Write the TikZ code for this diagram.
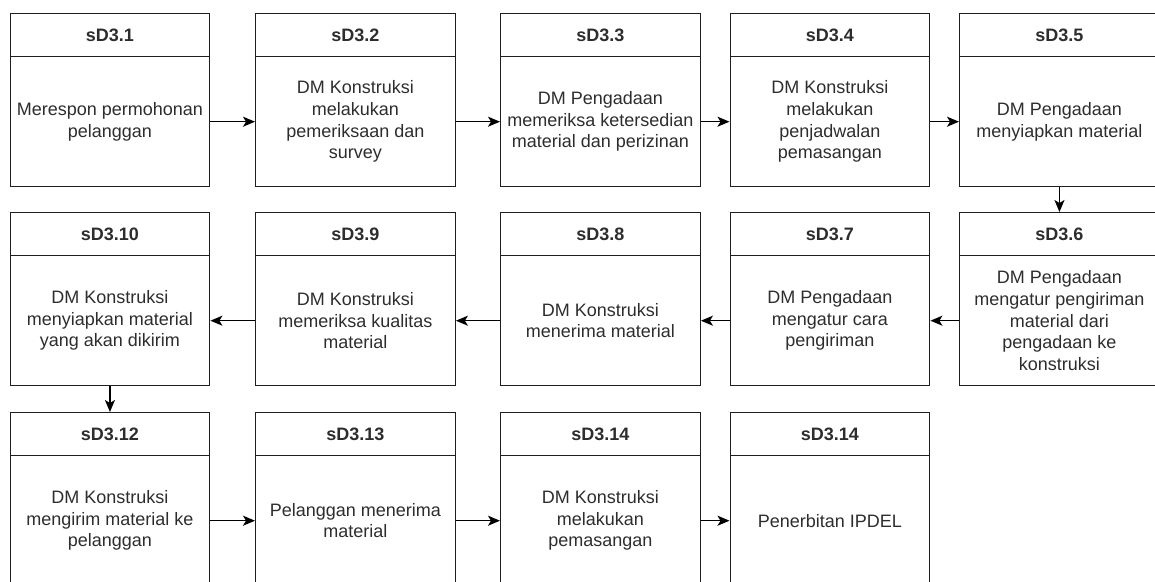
\documentclass[tikz,border=0pt]{standalone}
\usepackage{fontspec}
\setmainfont{Liberation Sans}
\usetikzlibrary{arrows.meta}
\definecolor{ln}{RGB}{30,30,30}
\definecolor{tx}{RGB}{45,45,45}
\tikzset{
  hdr/.style={draw=ln, line width=1.4pt, minimum width=199.5pt, minimum height=43pt, anchor=north west, inner sep=0pt,
    font=\fontsize{18}{21.6}\selectfont\bfseries, text=tx},
  bdy/.style={draw=ln, line width=1.4pt, minimum width=199.5pt, minimum height=130pt, anchor=north west, inner sep=0pt,
    align=center, font=\fontsize{18}{21.6}\selectfont, text=tx},
  flow/.style={draw=black, line width=1.5pt, -{Stealth[length=12pt,width=10pt,inset=3pt]}}
}
\begin{document}
\begin{tikzpicture}[x=1pt,y=-1pt]
\useasboundingbox (0,0) rectangle (1155,581);
\clip (0,0) rectangle (1155,581);
% row 1
\node[hdr] (h1) at (9.5,13) {sD3.1};
\node[bdy] (b1) at (9.5,56) {Merespon permohonan\\pelanggan};
\node[hdr] (h2) at (255,13) {sD3.2};
\node[bdy] (b2) at (255,56) {DM Konstruksi\\melakukan\\pemeriksaan dan\\survey};
\node[hdr] (h3) at (500,13) {sD3.3};
\node[bdy] (b3) at (500,56) {DM Pengadaan\\memeriksa ketersedian\\material dan perizinan};
\node[hdr] (h4) at (729.5,13) {sD3.4};
\node[bdy] (b4) at (729.5,56) {DM Konstruksi\\melakukan\\penjadwalan\\pemasangan};
\node[hdr] (h5) at (959,13) {sD3.5};
\node[bdy] (b5) at (959,56) {DM Pengadaan\\menyiapkan material};
% row 2
\node[hdr] (h10) at (9.5,212) {sD3.10};
\node[bdy] (b10) at (9.5,255) {DM Konstruksi\\menyiapkan material\\yang akan dikirim};
\node[hdr] (h9) at (255,212) {sD3.9};
\node[bdy] (b9) at (255,255) {DM Konstruksi\\memeriksa kualitas\\material};
\node[hdr] (h8) at (500,212) {sD3.8};
\node[bdy] (b8) at (500,255) {DM Konstruksi\\menerima material};
\node[hdr] (h7) at (729.5,212) {sD3.7};
\node[bdy] (b7) at (729.5,255) {DM Pengadaan\\mengatur cara\\pengiriman};
\node[hdr] (h6) at (959,212) {sD3.6};
\node[bdy] (b6) at (959,255) {DM Pengadaan\\mengatur pengiriman\\material dari\\pengadaan ke\\konstruksi};
% row 3
\node[hdr] (h12) at (9.5,412) {sD3.12};
\node[bdy] (b12) at (9.5,455) {DM Konstruksi\\mengirim material ke\\pelanggan};
\node[hdr] (h13) at (255,412) {sD3.13};
\node[bdy] (b13) at (255,455) {Pelanggan menerima\\material};
\node[hdr] (h14) at (500,412) {sD3.14};
\node[bdy] (b14) at (500,455) {DM Konstruksi\\melakukan\\pemasangan};
\node[hdr] (h15) at (729.5,412) {sD3.14};
\node[bdy] (b15) at (729.5,455) {Penerbitan IPDEL};
% connectors
\draw[flow] (b1.east) -- (b2.west);
\draw[flow] (b2.east) -- (b3.west);
\draw[flow] (b3.east) -- (b4.west);
\draw[flow] (b4.east) -- (b5.west);
\draw[flow] (b5.south) -- (h6.north);
\draw[flow] (b6.west) -- (b7.east);
\draw[flow] (b7.west) -- (b8.east);
\draw[flow] (b8.west) -- (b9.east);
\draw[flow] (b9.west) -- (b10.east);
\draw[flow] (b10.south) -- (h12.north);
\draw[flow] (b12.east) -- (b13.west);
\draw[flow] (b13.east) -- (b14.west);
\draw[flow] (b14.east) -- (b15.west);
\end{tikzpicture}
\end{document}
